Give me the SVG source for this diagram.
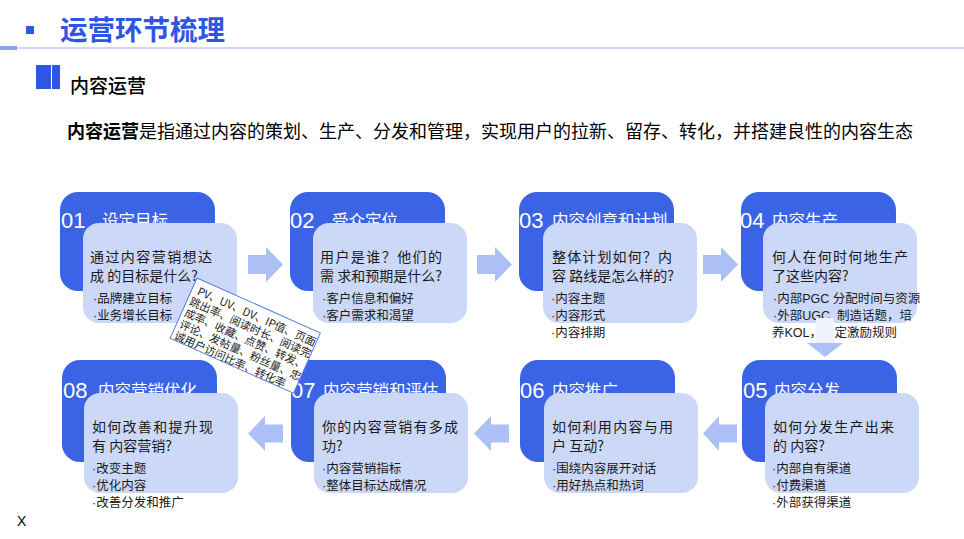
<svg xmlns="http://www.w3.org/2000/svg" width="964" height="539" viewBox="0 0 964 539">
<style>
.dark{fill:#3b63e6}
.light{fill:#ccd8f7}
.num{font-family:"Liberation Sans",Arial,sans-serif;font-size:22px;fill:#fff}
.lbl{font-family:"Noto Sans CJK SC",sans-serif;font-size:16.5px;fill:#fff}
.q{font-family:"Noto Sans CJK SC",sans-serif;font-size:14px;fill:#1a1a1a}
.b{font-family:"Liberation Sans","Noto Sans CJK SC",sans-serif;font-size:12.5px;fill:#1a1a1a}
.n{font-family:"Noto Sans CJK SC",sans-serif;font-size:11px;fill:#222}
.arr{fill:#adc0f5}
</style>
<rect width="964" height="539" fill="#fff"/>
<g id="header">
<rect x="26" y="26" width="8" height="8" fill="#2f55e4"/>
<text x="60" y="40" font-family="Noto Sans CJK SC, sans-serif" font-size="27.5" font-weight="bold" fill="#2f55e4">运营环节梳理</text>
<rect x="0" y="46" width="17" height="4" fill="#8aa3ee"/>
<rect x="17" y="47.5" width="947" height="1" fill="#9fb3f0"/>
<rect x="36" y="65" width="15" height="24" fill="#2f55e4"/>
<rect x="52" y="65" width="8" height="24" fill="#2f55e4"/>
<text x="70" y="93" font-family="Noto Sans CJK SC, sans-serif" font-size="19" font-weight="500" fill="#000">内容运营</text>
<text x="67" y="138" font-family="Noto Sans CJK SC, sans-serif" font-size="18" fill="#000"><tspan font-weight="bold">内容运营</tspan>是指通过内容的策划、生产、分发和管理，实现用户的拉新、留存、转化，并搭建良性的内容生态</text>
</g>

<g id="node1">
<rect class="dark" x="60" y="192" width="155" height="99" rx="18"/>
<text class="num" x="61" y="228">01</text>
<text class="lbl" x="102" y="227">设定目标</text>
<rect class="light" x="83" y="223" width="154" height="100" rx="16"/>
<text class="q" x="90" y="262" textLength="122" lengthAdjust="spacing">通过内容营销想达</text>
<text class="q" x="90" y="281">成 的目标是什么?</text>
<text class="b" x="93" y="303">·品牌建立目标</text>
<text class="b" x="93" y="320">·业务增长目标</text>
</g>

<g id="node2">
<rect class="dark" x="290" y="192" width="155" height="99" rx="18"/>
<text class="num" x="290" y="228">02</text>
<text class="lbl" x="332" y="227">受众定位</text>
<rect class="light" x="313" y="223" width="154" height="100" rx="16"/>
<text class="q" x="320" y="262" textLength="122" lengthAdjust="spacing">用户是谁？他们的</text>
<text class="q" x="320" y="281">需 求和预期是什么?</text>
<text class="b" x="322" y="303">·客户信息和偏好</text>
<text class="b" x="322" y="320">·客户需求和渴望</text>
</g>

<g id="node3">
<rect class="dark" x="519" y="192" width="155" height="99" rx="18"/>
<text class="num" x="519" y="228">03</text>
<text class="lbl" x="552" y="227">内容创意和计划</text>
<rect class="light" x="543" y="223" width="154" height="100" rx="16"/>
<text class="q" x="552" y="262" textLength="120" lengthAdjust="spacing">整体计划如何？内</text>
<text class="q" x="552" y="281">容 路线是怎么样的?</text>
<text class="b" x="551" y="303">·内容主题</text>
<text class="b" x="551" y="320">·内容形式</text>
<text class="b" x="551" y="337">·内容排期</text>
</g>

<g id="node4">
<rect class="dark" x="741" y="192" width="155" height="99" rx="18"/>
<text class="num" x="740" y="228">04</text>
<text class="lbl" x="772" y="227">内容生产</text>
<rect class="light" x="763" y="223" width="154" height="100" rx="16"/>
<text class="q" x="772" y="262" textLength="136" lengthAdjust="spacing">何人在何时何地生产</text>
<text class="q" x="772" y="281">了这些内容?</text>
<text class="b" x="773" y="303">·内部PGC 分配时间与资源</text>
<text class="b" x="773" y="320" xml:space="preserve">·外部UGC  制造话题，培</text>
<text class="b" x="772" y="337">养KOL，制定激励规则</text>
</g>

<g id="node5">
<rect class="dark" x="742" y="360" width="155" height="102" rx="18"/>
<text class="num" x="743" y="398">05</text>
<text class="lbl" x="774" y="397">内容分发</text>
<rect class="light" x="765" y="393" width="154" height="100" rx="16"/>
<text class="q" x="773" y="432" textLength="121" lengthAdjust="spacing">如何分发生产出来</text>
<text class="q" x="773" y="451">的 内容?</text>
<text class="b" x="772" y="473">·内部自有渠道</text>
<text class="b" x="772" y="490">·付费渠道</text>
<text class="b" x="772" y="507">·外部获得渠道</text>
</g>

<g id="node6">
<rect class="dark" x="520" y="360" width="155" height="102" rx="18"/>
<text class="num" x="520" y="398">06</text>
<text class="lbl" x="552" y="397">内容推广</text>
<rect class="light" x="544" y="393" width="154" height="100" rx="16"/>
<text class="q" x="552" y="432" textLength="121" lengthAdjust="spacing">如何利用内容与用</text>
<text class="q" x="552" y="451">户 互动?</text>
<text class="b" x="552" y="473">·围绕内容展开对话</text>
<text class="b" x="552" y="490">·用好热点和热词</text>
</g>

<g id="node7">
<rect class="dark" x="291" y="360" width="155" height="102" rx="18"/>
<text class="num" x="291" y="398">07</text>
<text class="lbl" x="323" y="397">内容营销和评估</text>
<rect class="light" x="314" y="393" width="154" height="100" rx="16"/>
<text class="q" x="322" y="432" textLength="136" lengthAdjust="spacing">你的内容营销有多成</text>
<text class="q" x="322" y="451">功?</text>
<text class="b" x="322" y="473">·内容营销指标</text>
<text class="b" x="322" y="490">·整体目标达成情况</text>
</g>

<g id="node8">
<rect class="dark" x="62" y="360" width="155" height="102" rx="18"/>
<text class="num" x="63" y="398">08</text>
<text class="lbl" x="98" y="397">内容营销优化</text>
<rect class="light" x="84" y="393" width="154" height="100" rx="16"/>
<text class="q" x="92" y="432" textLength="121" lengthAdjust="spacing">如何改善和提升现</text>
<text class="q" x="92" y="451">有 内容营销?</text>
<text class="b" x="92" y="473">·改变主题</text>
<text class="b" x="92" y="490">·优化内容</text>
<text class="b" x="92" y="507">·改善分发和推广</text>
</g>

<g id="connectors">
<path class="arr" d="M248 255H266V247L283 264.5L266 282V274H248Z"/>
<path class="arr" d="M477 255H495V247L512 264.5L495 282V274H477Z"/>
<path class="arr" d="M703 255H721V247L738 264.5L721 282V274H703Z"/>
<rect x="816" y="318" width="18" height="26" fill="#f0f3fd"/>
<path class="arr" d="M807 343H843L825 357Z"/>
<path class="arr" d="M737 424.5H719V416L703 433.5L719 451V442.5H737Z"/>
<path class="arr" d="M509 424.5H491V416L474 433.5L491 451V442.5H509Z"/>
<path class="arr" d="M283 424.5H265V416L248 433.5L265 451V442.5H283Z"/>
</g>

<g id="note" transform="translate(197,278) rotate(24)">
<rect x="0" y="0" width="135" height="66" fill="#fff" stroke="#5b7fe8" stroke-width="1"/>
<text class="n" x="6" y="15">PV、UV、DV、IP值、页面</text>
<text class="n" x="3" y="27.5">跳出率、阅读时长、阅读完</text>
<text class="n" x="3" y="40">成率、收藏、点赞、转发、</text>
<text class="n" x="3" y="52.5">评论、发帖量、粉丝量、忠</text>
<text class="n" x="3" y="65">诚用户访问比率、转化率</text>
</g>

<text x="17" y="526" font-family="Liberation Sans, Arial, sans-serif" font-size="14" fill="#000">X</text>
</svg>
